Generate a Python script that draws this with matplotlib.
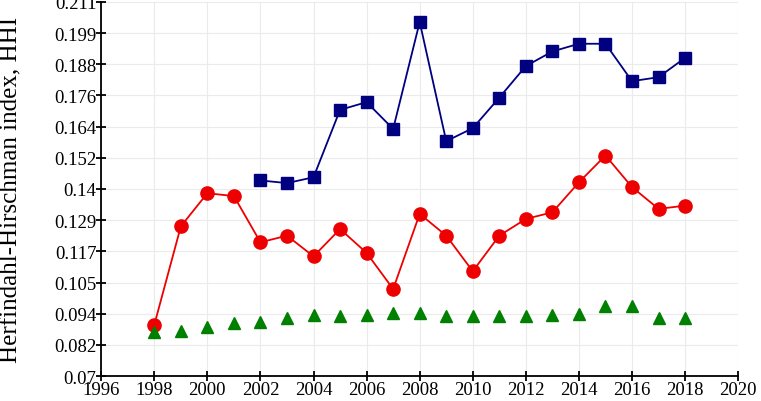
import matplotlib
matplotlib.use('Agg')
from matplotlib import pyplot as plt

plt.rcParams['font.family'] = ['Liberation Serif', 'DejaVu Serif']

# data
years_blue = list(range(2002, 2019))
hhi_blue = [0.1437, 0.1427, 0.1449, 0.1703, 0.1732, 0.1631, 0.2034, 0.1585, 0.1634,
            0.1749, 0.1868, 0.1923, 0.1952, 0.1952, 0.1811, 0.1826, 0.1899]

years_red = list(range(1998, 2019))
hhi_red = [0.0893, 0.1264, 0.1389, 0.1378, 0.1204, 0.1229, 0.1151, 0.1254, 0.1164,
           0.1028, 0.1311, 0.1229, 0.1095, 0.1229, 0.1292, 0.1317, 0.1430, 0.1531,
           0.1412, 0.1330, 0.1342]

years_green = list(range(1998, 2019))
hhi_green = [0.0865, 0.0871, 0.0884, 0.0900, 0.0905, 0.0919, 0.0930, 0.0925, 0.0931,
             0.0936, 0.0936, 0.0925, 0.0925, 0.0925, 0.0925, 0.0930, 0.0934, 0.0965,
             0.0965, 0.0919, 0.0919]

ytick_labels = ['0.07', '0.082', '0.094', '0.105', '0.117', '0.129', '0.14',
                '0.152', '0.164', '0.176', '0.188', '0.199', '0.211']
xticks = list(range(1996, 2021, 2))

fig = plt.figure(figsize=(7.61, 4.02), dpi=100)
ax = fig.add_axes([0.133, 0.062, 0.837, 0.931])

ax.plot(years_blue, hhi_blue, color='#000080', marker='s', markersize=8.5, linewidth=1.3)
ax.plot(years_red, hhi_red, color='#ee0000', marker='o', markersize=9.5, linewidth=1.3)
ax.plot(years_green, hhi_green, color='#008000', marker='^', markersize=8.5, linestyle='none')

yticks = [0.07 + i * (0.211 - 0.07) / 12 for i in range(13)]
ax.set_yticks(yticks)
ax.set_yticklabels(ytick_labels)
ax.set_xticks(xticks)
ax.set_xlim(1996, 2020)
ax.set_ylim(0.07, 0.211)

ax.grid(True, color='#ebebeb', linewidth=0.8)
ax.set_axisbelow(True)
for s in ['top', 'right']:
    ax.spines[s].set_visible(False)
for s in ['left', 'bottom']:
    ax.spines[s].set_linewidth(1.3)

ax.tick_params(axis='both', direction='inout', length=7, width=1.3, labelsize=13.5, pad=0)
ax.set_ylabel('Herfindahl-Hirschman index, HHI', fontsize=18)
ax.yaxis.set_label_coords(-0.124, 0.5)

fig.savefig('out.png', dpi=100)
